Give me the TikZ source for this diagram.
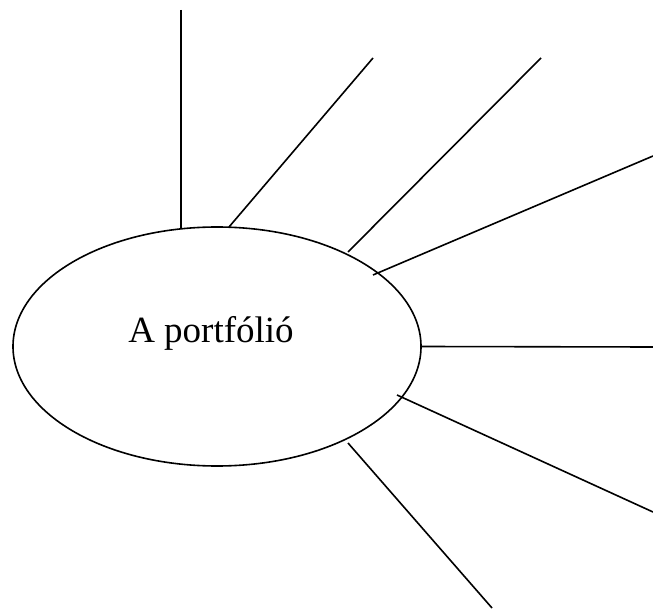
\documentclass[tikz,border=0pt]{standalone}
\usepackage{fontspec}
\setmainfont{Liberation Serif}
\usetikzlibrary{shapes.geometric}
\begin{document}
\begin{tikzpicture}[x=1pt,y=-1pt,
  spoke/.style={line width=1.6pt,black},
  bubble/.style={draw,line width=1.6pt,ellipse,minimum width=408pt,minimum height=239pt,inner sep=0pt}]
\useasboundingbox (0,0) rectangle (653,609);
\node[bubble] (p) at (217,346.5) {};
\node[anchor=base,font=\fontsize{37}{44}\selectfont] (t) at (211,343) {A portfólió};
\coordinate (a1) at (181,10);   \coordinate (b1) at (181,229);
\coordinate (a2) at (373,58);   \coordinate (b2) at (229,227);
\coordinate (a3) at (541,58);   \coordinate (b3) at (348,252);
\coordinate (a4) at (653,156);  \coordinate (b4) at (373,275);
\coordinate (a5) at (653,347);
\coordinate (a6) at (653,512);  \coordinate (b6) at (397,395);
\coordinate (a7) at (492,608);  \coordinate (b7) at (348,443);
\draw[spoke] (a1) -- (b1);
\draw[spoke] (a2) -- (b2);
\draw[spoke] (a3) -- (b3);
\draw[spoke] (a4) -- (b4);
\draw[spoke] (p.east) -- (a5);
\draw[spoke] (a6) -- (b6);
\draw[spoke] (a7) -- (b7);
\end{tikzpicture}
\end{document}
